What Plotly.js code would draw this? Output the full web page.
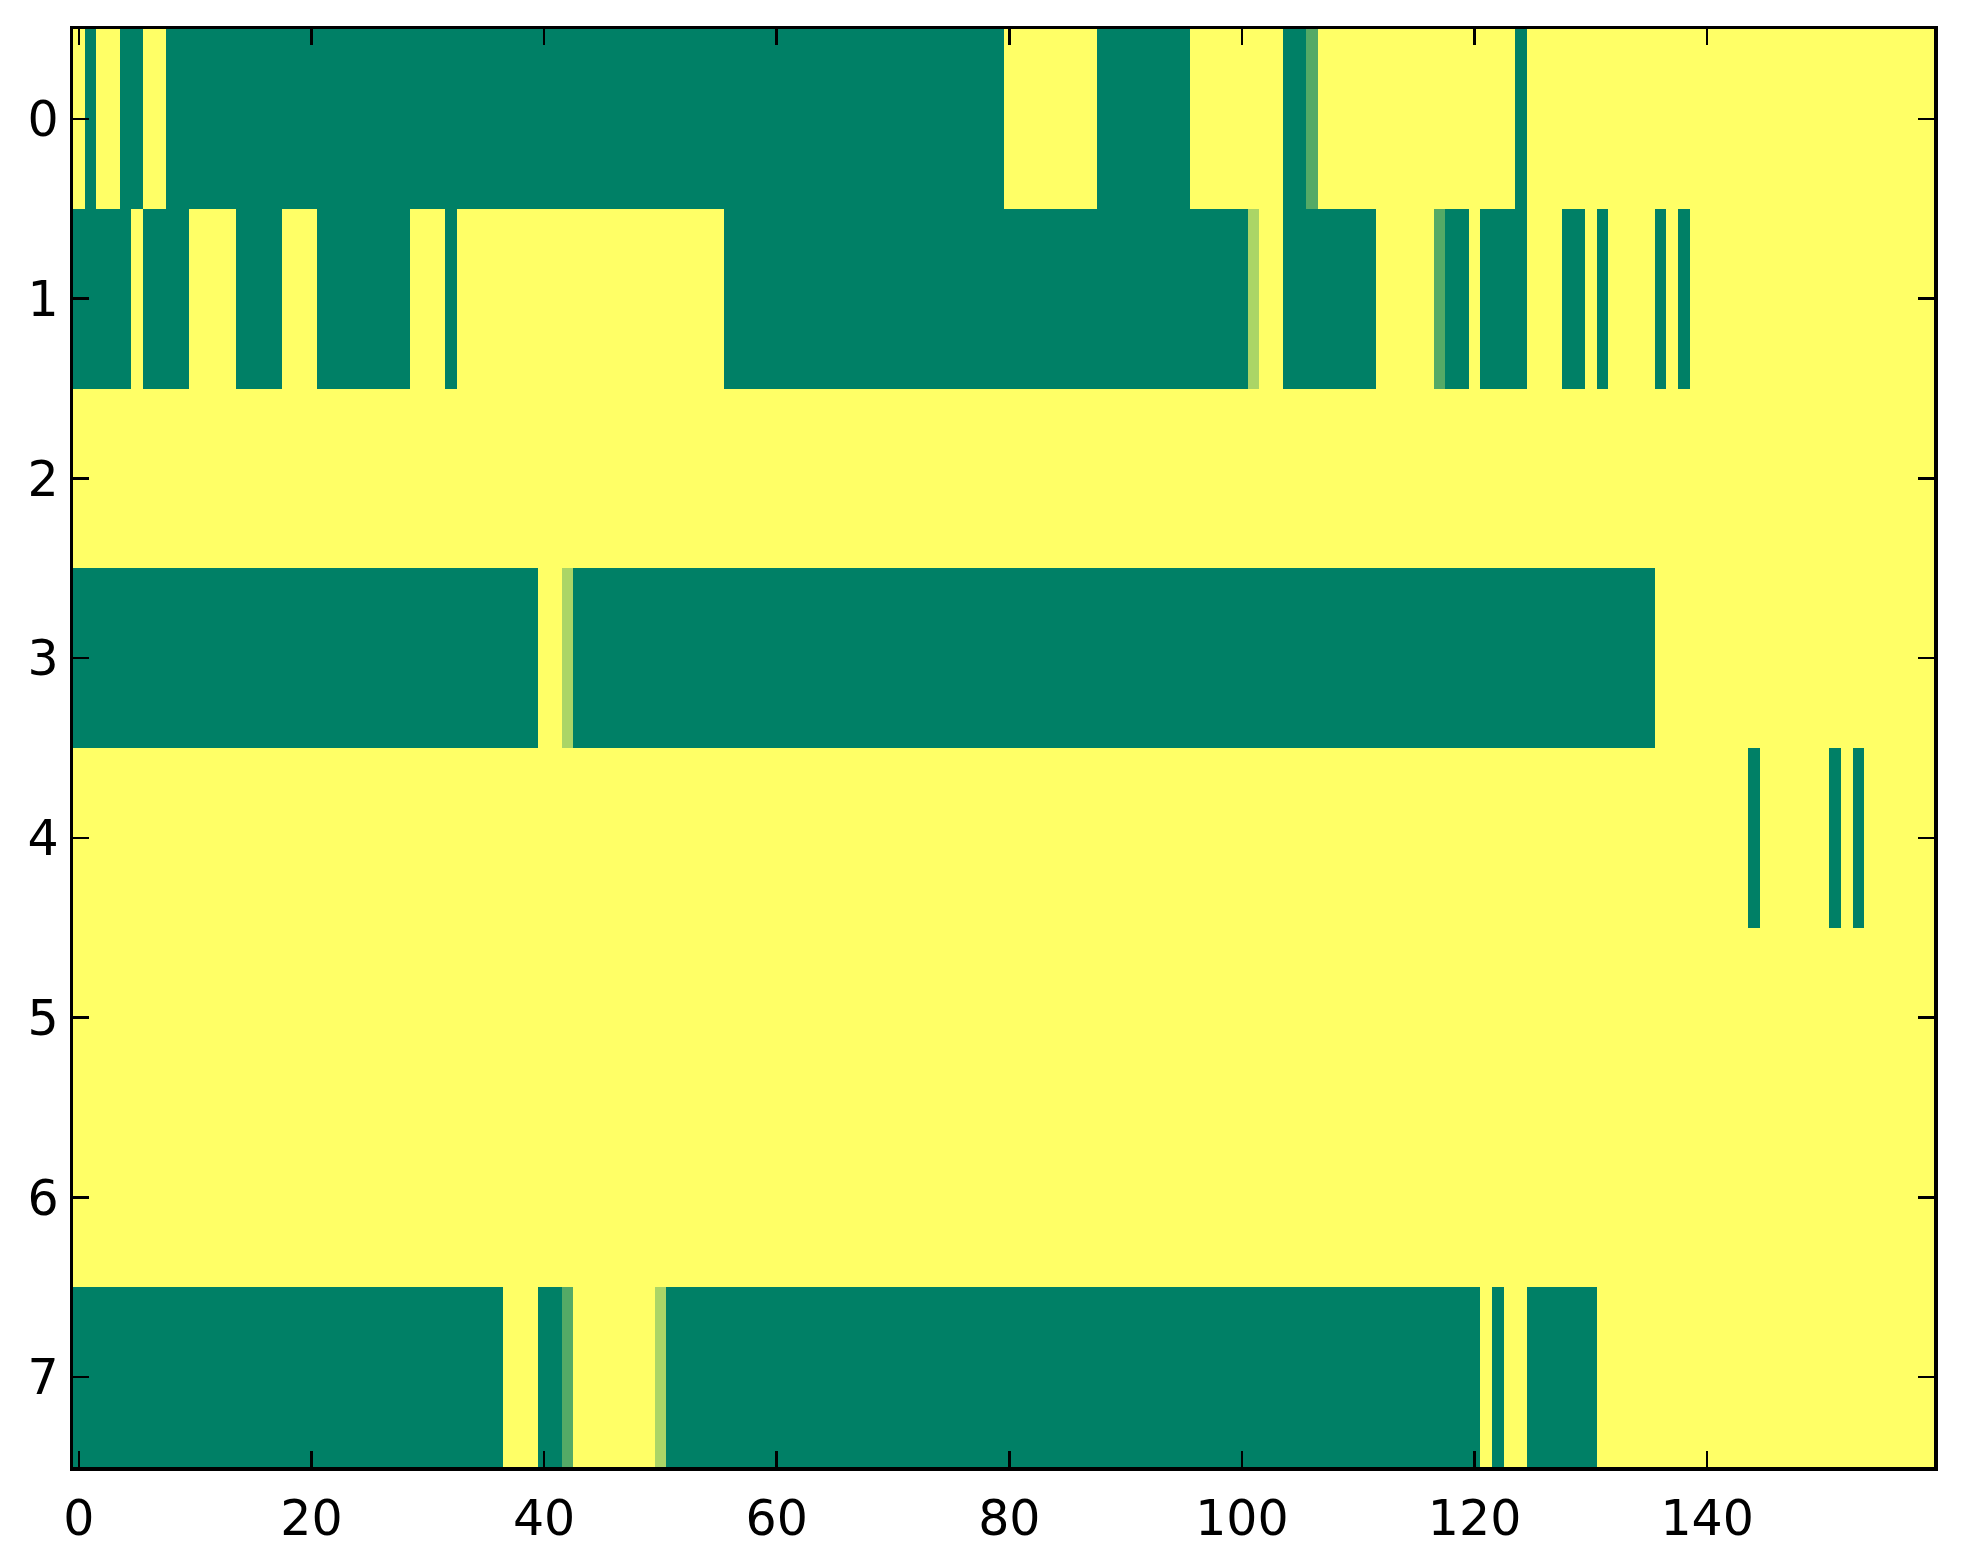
<!DOCTYPE html>
<html>
<head>
<meta charset="utf-8">
<script src="https://cdn.plot.ly/plotly-3.0.1.min.js"></script>
<style>
  html, body { margin: 0; padding: 0; background: #ffffff; }
  #chart { width: 1963px; height: 1564px; }
</style>
</head>
<body>
<div id="chart"></div>
<script>
// Cell values, as runs of [value, count] per row (160 columns per row).
// 0 = dark green, 1 = yellow, intermediate values shown as lighter greens.
const row0Runs = [[1,1],[0,1],[1,2],[0,2],[1,2],[0,72],[1,8],[0,8],[1,8],[0,2],[0.33,1],[1,17],[0,1],[1,35]];
const row1Runs = [[0,5],[1,1],[0,4],[1,4],[0,4],[1,3],[0,8],[1,3],[0,1],[1,23],[0,45],[0.67,1],[1,2],[0,8],[1,5],[0.33,1],[0,2],[1,1],[0,4],[1,3],[0,2],[1,1],[0,1],[1,4],[0,1],[1,1],[0,1],[1,21]];
const row2Runs = [[1,160]];
const row3Runs = [[0,40],[1,2],[0.67,1],[0,93],[1,24]];
const row4Runs = [[1,144],[0,1],[1,6],[0,1],[1,1],[0,1],[1,6]];
const row5Runs = [[1,160]];
const row6Runs = [[1,160]];
const row7Runs = [[0,37],[1,3],[0,2],[0.33,1],[1,7],[0.67,1],[0,70],[1,1],[0,1],[1,2],[0,6],[1,29]];

const rowLabels = [0, 1, 2, 3, 4, 5, 6, 7];
const xTickVals = [0, 20, 40, 60, 80, 100, 120, 140];
const nCols = 160;

function expandRuns(runs) {
  const out = [];
  runs.forEach(([v, n]) => { for (let i = 0; i < n; i++) out.push(v); });
  return out;
}

const allRuns = [row0Runs, row1Runs, row2Runs, row3Runs, row4Runs, row5Runs, row6Runs, row7Runs];
const z = allRuns.map(expandRuns);
const xCols = [];
for (let i = 0; i < nCols; i++) xCols.push(i);

const trace = {
  type: 'heatmap',
  z: z,
  x: xCols,
  y: rowLabels,
  zmin: 0,
  zmax: 1,
  colorscale: [[0, 'rgb(0,128,102)'], [1, 'rgb(255,255,102)']],
  showscale: false,
  hoverinfo: 'none'
};

const tickFont = { family: 'DejaVu Sans, sans-serif', size: 49, color: '#000000' };

const layout = {
  width: 1963,
  height: 1564,
  margin: { l: 73, r: 29, t: 29, b: 97, pad: 0 },
  paper_bgcolor: '#ffffff',
  plot_bgcolor: '#ffffff',
  showlegend: false,
  xaxis: {
    range: [-0.5, 159.5],
    tickmode: 'array',
    tickvals: xTickVals,
    ticktext: xTickVals.map(String),
    ticks: 'inside',
    ticklen: 16,
    tickwidth: 2.5,
    tickcolor: '#000000',
    showline: true,
    linecolor: '#000000',
    linewidth: 3.5,
    mirror: 'allticks',
    showgrid: false,
    zeroline: false,
    tickfont: tickFont,
    ticklabelstandoff: 6
  },
  yaxis: {
    range: [7.5, -0.5],
    tickmode: 'array',
    tickvals: rowLabels,
    ticktext: rowLabels.map(String),
    ticks: 'inside',
    ticklen: 16,
    tickwidth: 2.5,
    tickcolor: '#000000',
    showline: true,
    linecolor: '#000000',
    linewidth: 3.5,
    mirror: 'allticks',
    showgrid: false,
    zeroline: false,
    tickfont: tickFont,
    ticklabelstandoff: 1
  }
};

Plotly.newPlot('chart', [trace], layout, { staticPlot: true, displayModeBar: false });
</script>
</body>
</html>
